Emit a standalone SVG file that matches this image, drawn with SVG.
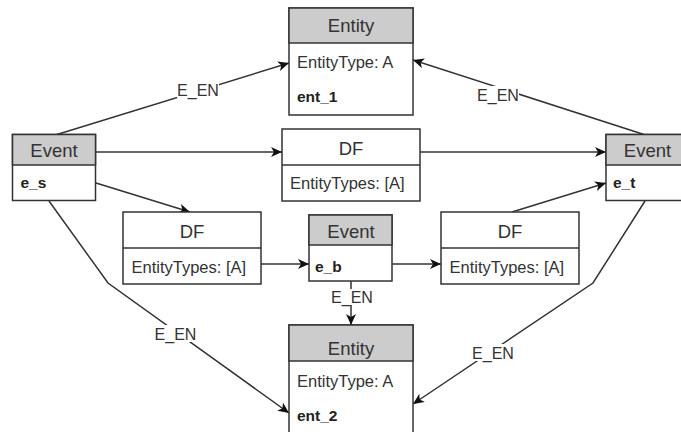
<svg xmlns="http://www.w3.org/2000/svg" width="681" height="432" viewBox="0 0 681 432">
  <style>
    .box { fill: #ffffff; stroke: #333333; stroke-width: 1.5; }
    .head { fill: #cccccc; stroke: #333333; stroke-width: 1.5; }
    .edge { fill: none; stroke: #333333; stroke-width: 1.5; }
    .title { font-family: "Liberation Sans", Arial, sans-serif; font-size: 18.5px; fill: #333333; text-anchor: middle; }
    .attr { font-family: "Liberation Sans", Arial, sans-serif; font-size: 16.5px; fill: #333333; }
    .key { font-family: "Liberation Sans", Arial, sans-serif; font-size: 15.5px; font-weight: bold; fill: #222222; }
    .lbl { font-family: "Liberation Sans", Arial, sans-serif; font-size: 16px; fill: #333333; text-anchor: middle; }
    .lblbg { fill: #ffffff; }
  </style>
  <defs>
    <marker id="arrow" markerUnits="userSpaceOnUse" markerWidth="12" markerHeight="10" refX="11" refY="5" orient="auto">
      <path d="M0,0 L11,5 L0,10 L3,5 Z" fill="#111111"/>
    </marker>
  </defs>

  <rect width="681" height="432" fill="#ffffff"/>

  <!-- connectors -->
  <g id="edges">
    <path class="edge" d="M57,134.5 L289,63" marker-end="url(#arrow)"/>
    <path class="edge" d="M644,134.5 L413,60" marker-end="url(#arrow)"/>
    <path class="edge" d="M96,152 L282,152" marker-end="url(#arrow)"/>
    <path class="edge" d="M420,152 L606,152" marker-end="url(#arrow)"/>
    <path class="edge" d="M96,183 L190,212" marker-end="url(#arrow)"/>
    <path class="edge" d="M261,264 L309,264" marker-end="url(#arrow)"/>
    <path class="edge" d="M392,264 L441,264" marker-end="url(#arrow)"/>
    <path class="edge" d="M512,212 L606,183" marker-end="url(#arrow)"/>
    <path class="edge" d="M351,281 L351,325" marker-end="url(#arrow)"/>
    <path class="edge" d="M49,201 L108,283 L289,413" marker-end="url(#arrow)"/>
    <path class="edge" d="M645,201 L593,283 L413,404" marker-end="url(#arrow)"/>

    <!-- edge labels -->
    <rect class="lblbg" x="177" y="81" width="42" height="17"/>
    <text class="lbl" x="198" y="96">E_EN</text>
    <rect class="lblbg" x="477" y="86" width="42" height="17"/>
    <text class="lbl" x="498" y="100.5">E_EN</text>
    <rect class="lblbg" x="331" y="289" width="42" height="16"/>
    <text class="lbl" x="352" y="303">E_EN</text>
    <rect class="lblbg" x="154" y="325" width="43" height="17"/>
    <text class="lbl" x="175.5" y="340">E_EN</text>
    <rect class="lblbg" x="471" y="344" width="44" height="17"/>
    <text class="lbl" x="493" y="359">E_EN</text>
  </g>

  <!-- entity ent_1 -->
  <g id="ent_1">
    <rect class="box" x="289" y="8" width="124" height="107"/>
    <rect class="head" x="289" y="8" width="124" height="35"/>
    <text class="title" x="351" y="32">Entity</text>
    <text class="attr" x="297" y="68">EntityType: A</text>
    <text class="key" x="297" y="102">ent_1</text>
  </g>

  <!-- event e_s -->
  <g id="e_s">
    <rect class="box" x="12.5" y="134.5" width="83" height="66"/>
    <rect class="head" x="12.5" y="134.5" width="83" height="30.5"/>
    <text class="title" x="54" y="157">Event</text>
    <text class="key" x="20.5" y="188">e_s</text>
  </g>

  <!-- event e_t -->
  <g id="e_t">
    <rect class="box" x="606" y="134.5" width="83" height="66"/>
    <rect class="head" x="606" y="134.5" width="83" height="30.5"/>
    <text class="title" x="647.5" y="157">Event</text>
    <text class="key" x="613" y="188">e_t</text>
  </g>

  <!-- directly-follows e_s -> e_t -->
  <g id="df_top">
    <rect class="box" x="282" y="129" width="138" height="72"/>
    <line class="edge" x1="282" y1="165" x2="420" y2="165"/>
    <text class="title" x="351" y="155">DF</text>
    <text class="attr" x="290" y="189">EntityTypes: [A]</text>
  </g>

  <!-- directly-follows e_s -> e_b -->
  <g id="df_left">
    <rect class="box" x="123" y="212" width="138" height="72"/>
    <line class="edge" x1="123" y1="248" x2="261" y2="248"/>
    <text class="title" x="192" y="238">DF</text>
    <text class="attr" x="131.5" y="272.5">EntityTypes: [A]</text>
  </g>

  <!-- event e_b -->
  <g id="e_b">
    <rect class="box" x="309" y="215" width="83" height="66"/>
    <rect class="head" x="309" y="215" width="83" height="30"/>
    <text class="title" x="351" y="238">Event</text>
    <text class="key" x="315" y="272">e_b</text>
  </g>

  <!-- directly-follows e_b -> e_t -->
  <g id="df_right">
    <rect class="box" x="441" y="212" width="138" height="72"/>
    <line class="edge" x1="441" y1="248" x2="579" y2="248"/>
    <text class="title" x="510" y="238">DF</text>
    <text class="attr" x="449.5" y="272.5">EntityTypes: [A]</text>
  </g>

  <!-- entity ent_2 -->
  <g id="ent_2">
    <rect class="box" x="289" y="325" width="124" height="110"/>
    <rect class="head" x="289" y="325" width="124" height="36"/>
    <text class="title" x="351" y="355">Entity</text>
    <text class="attr" x="297" y="387">EntityType: A</text>
    <text class="key" x="297" y="421">ent_2</text>
  </g>
</svg>
